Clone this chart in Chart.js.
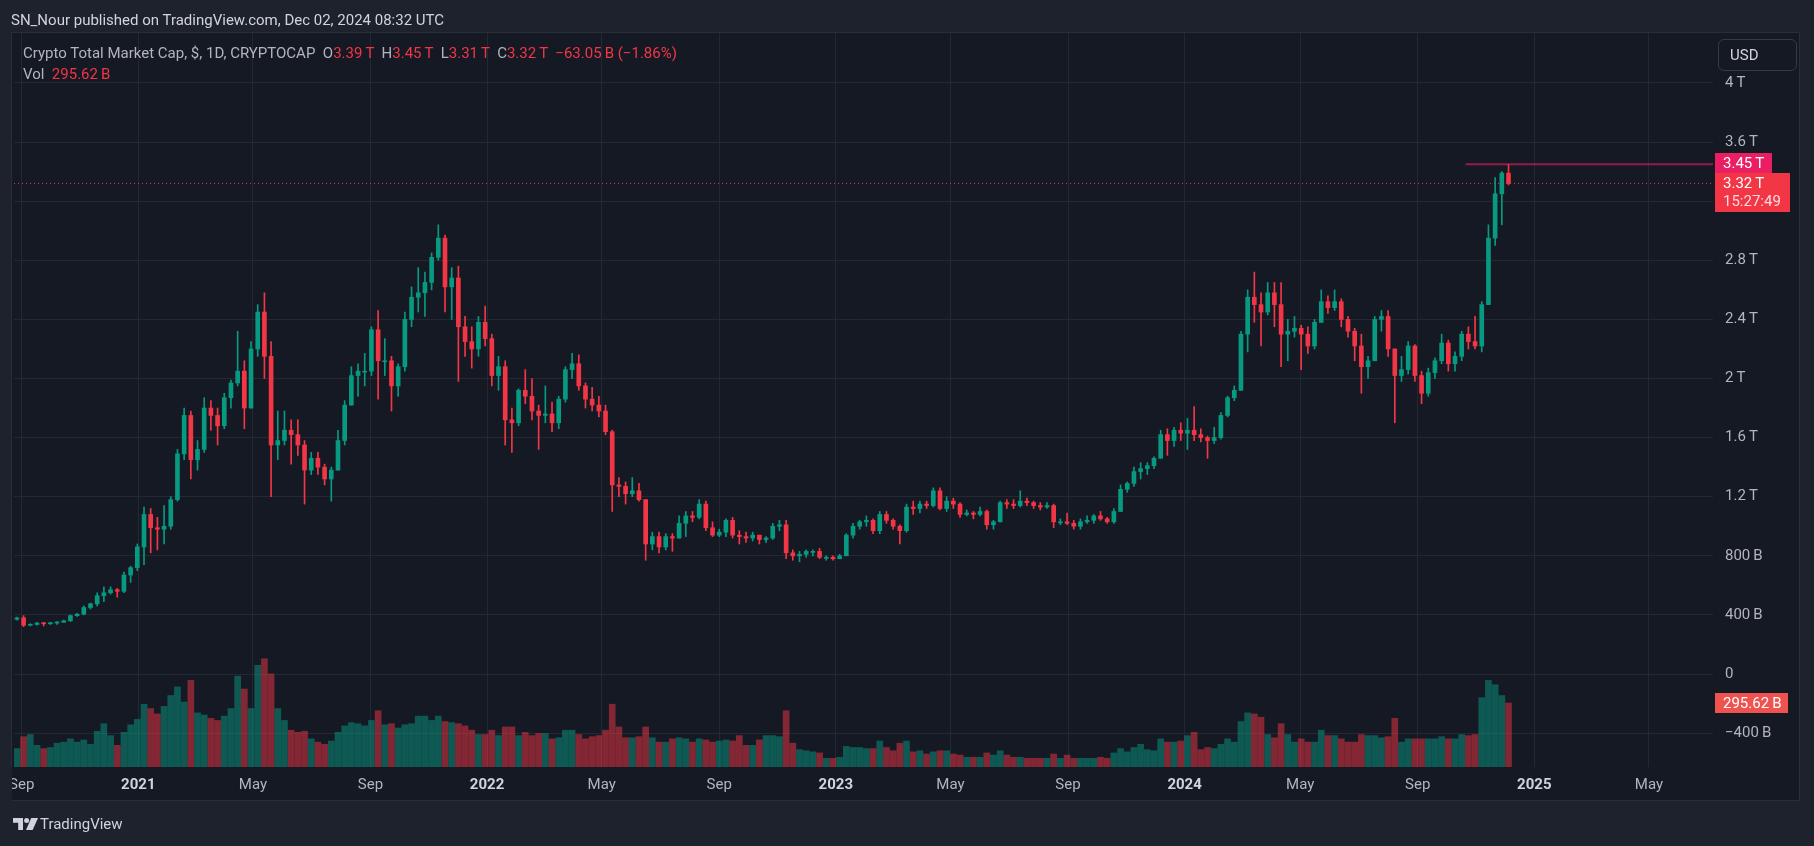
<!DOCTYPE html>
<html>
<head>
<meta charset="utf-8">
<script src="https://cdn.jsdelivr.net/npm/chart.js@4.4.0/dist/chart.umd.min.js"></script>
<style>
  html, body { margin: 0; padding: 0; width: 1814px; height: 846px; overflow: hidden; background: #1e222d; font-family: Roboto, "Liberation Sans", sans-serif; }
  #pane { position: absolute; left: 11px; top: 32px; width: 1789px; height: 769px; background: #151924; border: 1px solid #2a2e39; box-sizing: border-box; }
  #c { position: absolute; left: 0; top: 0; }
  .txt { position: absolute; white-space: pre; font-size: 15px; line-height: 18px; }
  .red { color: #f23645; }
  #usd { position: absolute; left: 1718px; top: 39px; width: 79px; height: 32px; box-sizing: border-box; border: 1px solid #363a45; border-radius: 6px; color: #d1d4dc; font-size: 15px; line-height: 30px; padding-left: 11px; }
  #logo { position: absolute; left: 13px; top: 818px; }
  #edge { position: absolute; left: 0; top: 767px; width: 12px; height: 34px; background: #1e222d; }
</style>
</head>
<body>
<div id="pane"></div>
<canvas id="c" width="1814" height="846"></canvas>
<div id="edge"></div>
<div class="txt" style="left:11px; top:11px; color:#d1d4dc;">SN_Nour published on TradingView.com, Dec 02, 2024 08:32 UTC</div>
<div class="txt" id="legend1" style="left:23px; top:44px; color:#b2b5be;"></div>
<div class="txt" id="legend2" style="left:23px; top:65px; color:#b2b5be;"></div>
<div id="usd">USD</div>
<svg id="logo" width="25" height="12" viewBox="0 0 25 12">
  <path d="M0 0 H10 V12 H5.2 V4.8 H0 Z" fill="#d1d4dc"/>
  <circle cx="13.6" cy="2.6" r="2.5" fill="#d1d4dc"/>
  <path d="M18.2 0 H25 L19.6 12 H13 Z" fill="#d1d4dc"/>
</svg>
<div class="txt" style="left:40px; top:815px; color:#d1d4dc;">TradingView</div>

<script>
// weekly candles, values in trillions of USD
const firstWeek = '2020-08-24';

const openT = [
  .37,.38,.33,.335,.345,.34,.345,.35,.36,.395,
  .405,.45,.475,.53,.55,.57,.56,.67,.72,.86,
  1.08,.99,.98,1.00,1.18,1.49,1.75,1.45,1.52,1.80,
  1.75,1.68,1.87,1.97,2.05,1.80,2.20,2.45,2.15,1.55,
  1.58,1.65,1.62,1.55,1.38,1.46,1.40,1.32,1.38,1.58,
  1.82,2.02,2.05,2.05,2.33,2.12,2.12,1.95,2.08,2.40,
  2.55,2.58,2.65,2.82,2.95,2.62,2.68,2.35,2.25,2.20,
  2.38,2.27,2.02,2.08,1.72,1.70,1.92,1.88,1.78,1.75,
  1.76,1.70,1.86,2.06,2.10,1.95,1.86,1.82,1.78,1.64,
  1.28,1.27,1.22,1.24,1.18,.88,.93,.86,.93,.92,
  1.02,1.07,1.06,1.15,.99,.94,.96,1.04,.94,.93,
  .92,.94,.91,.92,1.00,1.01,.82,.80,.81,.83,
  .83,.79,.79,.78,.80,.94,1.00,1.03,1.04,.97,
  1.08,1.04,1.00,.97,1.13,1.12,1.15,1.14,1.24,1.12,
  1.17,1.15,1.08,1.09,1.08,1.10,1.01,1.03,1.16,1.15,
  1.14,1.17,1.16,1.14,1.13,1.14,1.03,1.03,1.02,1.00,
  1.03,1.04,1.07,1.05,1.03,1.10,1.25,1.29,1.37,1.39,
  1.41,1.46,1.62,1.58,1.65,1.63,1.65,1.62,1.60,1.58,
  1.60,1.75,1.87,1.92,2.30,2.55,2.50,2.45,2.58,2.50,
  2.30,2.32,2.34,2.30,2.22,2.38,2.52,2.48,2.52,2.40,
  2.32,2.22,2.08,2.12,2.40,2.42,2.20,2.02,2.06,2.22,
  2.02,1.90,2.04,2.12,2.24,2.10,2.15,2.30,2.25,2.22,
  2.50,2.95,3.25,3.39
];
const highT = [
  .385,.395,.34,.35,.35,.35,.355,.365,.40,.41,
  .46,.48,.55,.59,.59,.58,.69,.73,.88,1.13,
  1.12,1.06,1.14,1.20,1.52,1.80,1.78,1.58,1.87,1.85,
  1.80,1.90,1.99,2.32,2.12,2.25,2.50,2.58,2.25,1.78,
  1.78,1.72,1.72,1.58,1.50,1.50,1.42,1.40,1.65,1.85,
  2.08,2.10,2.17,2.35,2.46,2.27,2.15,2.10,2.45,2.62,
  2.75,2.72,2.85,3.04,2.97,2.75,2.76,2.42,2.35,2.42,
  2.49,2.30,2.15,2.12,1.80,1.93,2.06,2.00,1.82,1.95,
  1.84,1.88,2.08,2.17,2.16,1.97,1.94,1.88,1.82,1.65,
  1.33,1.30,1.33,1.29,1.18,.96,.96,.95,.95,1.07,
  1.10,1.10,1.18,1.17,1.03,.98,1.05,1.06,.97,.96,
  .96,.94,.93,1.02,1.04,1.04,.84,.83,.84,.84,
  .85,.80,.80,.81,.95,1.02,1.04,1.07,1.05,1.10,
  1.10,1.05,1.01,1.15,1.17,1.17,1.17,1.26,1.26,1.20,
  1.19,1.16,1.11,1.10,1.13,1.11,1.04,1.17,1.18,1.18,
  1.24,1.19,1.17,1.16,1.16,1.15,1.05,1.09,1.04,1.05,
  1.07,1.08,1.10,1.06,1.12,1.28,1.30,1.40,1.43,1.43,
  1.47,1.65,1.66,1.67,1.70,1.73,1.81,1.66,1.61,1.67,
  1.77,1.88,1.95,2.32,2.60,2.72,2.58,2.65,2.65,2.65,
  2.40,2.42,2.36,2.35,2.40,2.60,2.56,2.60,2.54,2.42,
  2.34,2.30,2.15,2.42,2.46,2.46,2.20,2.15,2.25,2.23,
  2.05,2.07,2.14,2.30,2.26,2.18,2.32,2.35,2.42,2.52,
  3.04,3.36,3.40,3.45
];
const lowT = [
  .365,.32,.325,.33,.325,.335,.335,.35,.355,.39,
  .40,.44,.46,.49,.54,.52,.55,.62,.70,.74,
  .82,.84,.88,.98,1.17,1.45,1.32,1.38,1.50,1.65,
  1.55,1.66,1.80,1.95,1.66,1.80,2.15,2.00,1.20,1.45,
  1.55,1.42,1.48,1.15,1.35,1.35,1.28,1.17,1.38,1.55,
  1.82,1.88,1.95,2.02,1.86,2.02,1.78,1.88,2.05,2.35,
  2.45,2.42,2.60,2.80,2.45,2.40,1.98,2.15,2.07,2.15,
  2.22,1.95,1.92,1.55,1.50,1.68,1.83,1.72,1.52,1.70,
  1.64,1.66,1.84,2.00,1.92,1.80,1.78,1.74,1.62,1.10,
  1.20,1.15,1.20,1.17,.77,.84,.82,.84,.83,.92,
  .93,1.03,1.05,.97,.93,.93,.93,.92,.88,.89,
  .90,.88,.89,.91,.97,.78,.77,.76,.79,.80,
  .78,.77,.77,.78,.80,.92,.98,1.00,.95,.95,
  1.02,.98,.88,.96,1.08,1.09,1.12,1.13,1.11,1.10,
  1.12,1.06,1.07,1.05,1.07,.98,.98,1.03,1.12,1.12,
  1.13,1.14,1.12,1.11,1.12,.99,1.01,1.01,.98,.98,
  1.02,1.02,1.04,1.02,1.02,1.10,1.23,1.27,1.32,1.35,
  1.39,1.46,1.48,1.54,1.58,1.52,1.58,1.57,1.46,1.56,
  1.59,1.74,1.85,1.92,2.18,2.38,2.22,2.43,2.35,2.08,
  2.12,2.28,2.06,2.17,2.20,2.38,2.44,2.46,2.35,2.28,
  2.12,1.90,2.00,2.12,2.32,2.15,1.70,1.98,2.03,1.98,
  1.83,1.88,2.00,2.10,2.05,2.05,2.12,2.20,2.20,2.18,
  2.50,2.90,3.04,3.31
];
const closeT = [
  .38,.33,.335,.345,.34,.345,.35,.36,.395,.405,
  .45,.475,.53,.55,.57,.56,.67,.72,.86,1.08,
  .99,.98,1.00,1.18,1.49,1.75,1.45,1.52,1.80,1.75,
  1.68,1.87,1.97,2.05,1.80,2.20,2.45,2.15,1.55,1.58,
  1.65,1.62,1.55,1.38,1.46,1.40,1.32,1.38,1.58,1.82,
  2.02,2.05,2.05,2.33,2.12,2.12,1.95,2.08,2.40,2.55,
  2.58,2.65,2.82,2.95,2.62,2.68,2.35,2.25,2.20,2.38,
  2.27,2.02,2.08,1.72,1.70,1.92,1.88,1.78,1.75,1.76,
  1.70,1.86,2.06,2.10,1.95,1.86,1.82,1.78,1.64,1.28,
  1.27,1.22,1.24,1.18,.88,.93,.86,.93,.92,1.02,
  1.07,1.06,1.15,.99,.94,.96,1.04,.94,.93,.92,
  .94,.91,.92,1.00,1.01,.82,.80,.81,.83,.83,
  .79,.79,.78,.80,.94,1.00,1.03,1.04,.97,1.08,
  1.04,1.00,.97,1.13,1.12,1.15,1.14,1.24,1.12,1.17,
  1.15,1.08,1.09,1.08,1.10,1.01,1.03,1.16,1.15,1.14,
  1.17,1.16,1.14,1.13,1.14,1.03,1.03,1.02,1.00,1.03,
  1.04,1.07,1.05,1.03,1.10,1.25,1.29,1.37,1.39,1.41,
  1.46,1.62,1.58,1.65,1.63,1.65,1.62,1.60,1.58,1.60,
  1.75,1.87,1.92,2.30,2.55,2.50,2.45,2.58,2.50,2.30,
  2.32,2.34,2.30,2.22,2.38,2.52,2.48,2.52,2.40,2.32,
  2.22,2.08,2.12,2.40,2.42,2.20,2.02,2.06,2.22,2.02,
  1.90,2.04,2.12,2.24,2.10,2.15,2.30,2.25,2.22,2.50,
  2.95,3.25,3.39,3.32
];
// typical daily volume of each week, billions
const volumeB = [
  85,140,150,100,85,90,110,115,130,115,
  125,105,165,200,145,100,160,195,220,290,
  270,245,280,330,370,300,400,250,240,225,
  215,235,270,420,360,270,470,500,430,270,
  215,170,160,165,130,115,105,120,160,190,
  205,200,190,215,260,195,200,180,195,200,
  235,235,215,235,210,205,200,190,170,150,
  150,170,145,185,185,145,160,145,155,155,
  130,135,170,170,150,130,140,145,170,290,
  185,135,135,140,185,135,115,115,130,135,
  130,115,130,125,115,120,125,120,145,100,
  100,125,145,145,140,260,110,80,75,70,
  65,40,40,45,95,90,90,85,85,120,
  90,75,110,120,70,75,60,70,75,75,
  60,55,45,45,45,65,55,75,55,45,
  45,40,40,40,40,60,40,55,40,40,
  40,40,45,40,65,85,70,90,105,80,
  75,130,115,115,120,145,160,80,90,85,
  105,130,115,210,250,245,230,150,135,200,
  150,115,130,115,115,170,145,145,130,115,
  115,150,145,145,135,140,225,115,130,130,
  130,130,130,140,130,130,150,145,150,320,
  400,380,330,295.62
];

// time axis: days counted from 2020-09-01
const timeTickDays = [0, 122, 242, 365, 487, 607, 730, 852, 972, 1095, 1217, 1338, 1461, 1583, 1703];
const timeTickLabels = ['Sep', '2021', 'May', 'Sep', '2022', 'May', 'Sep', '2023', 'May', 'Sep', '2024', 'May', 'Sep', '2025', 'May'];
const priceTicks = [-0.4, 0, 0.4, 0.8, 1.2, 1.6, 2, 2.4, 2.8, 3.2, 3.6, 4];
const priceTickLabels = ['\u2212400\u2009B', '0', '400\u2009B', '800\u2009B', '1.2\u2009T', '1.6\u2009T', '2\u2009T', '2.4\u2009T', '2.8\u2009T', '3.2\u2009T', '3.6\u2009T', '4\u2009T'];
const highRayStartDay = 1511;
const countdown = '15:27:49';

const DAY = 86400000;
const origin = Date.UTC(2020, 8, 1);
const weeks = closeT.map((_, i) => new Date(Date.parse(firstWeek) + i * 7 * DAY).toISOString().slice(0, 10));
const xs = weeks.map(w => (Date.parse(w) - origin) / DAY + 3);

const UP = '#089981', DOWN = '#f23645';
const isUp = closeT.map((c, i) => c >= openT[i]);
const candleColors = isUp.map(u => u ? UP : DOWN);
const volColors = isUp.map(u => u ? 'rgba(8,153,129,0.5)' : 'rgba(242,54,69,0.5)');

const last = closeT.length - 1;
const fmtT = v => v.toFixed(2) + '\u2009T';

// legend lines
document.getElementById('legend1').innerHTML =
  'Crypto Total Market Cap, $, 1D, CRYPTOCAP  O<span class="red">' + fmtT(openT[last]) +
  '</span>  H<span class="red">' + fmtT(highT[last]) +
  '</span>  L<span class="red">' + fmtT(lowT[last]) +
  '</span>  C<span class="red">' + fmtT(closeT[last]) +
  '</span>  <span class="red">\u221263.05\u2009B (\u22121.86%)</span>';
document.getElementById('legend2').innerHTML =
  'Vol  <span class="red">' + volumeB[last].toFixed(2) + '\u2009B</span>';

const axisLabels = {
  id: 'axisLabels',
  afterDraw(chart) {
    const { ctx, scales } = chart;
    const y = scales.y, yv = scales.yv;
    const x0 = y.left + 2;
    ctx.save();
    ctx.textBaseline = 'middle';
    ctx.font = '15px Roboto';

    let yc = y.getPixelForValue(highT[last]);
    ctx.fillStyle = '#e91e63';
    ctx.fillRect(x0, Math.round(yc) - 11, 57, 21);
    ctx.fillStyle = '#ffffff';
    ctx.fillText(fmtT(highT[last]), x0 + 8, yc);

    yc = y.getPixelForValue(closeT[last]);
    ctx.fillStyle = '#f23645';
    ctx.fillRect(x0, Math.round(yc) - 10, 75, 39);
    ctx.fillStyle = '#ffffff';
    ctx.fillText(fmtT(closeT[last]), x0 + 8, yc + 1);
    ctx.fillStyle = 'rgba(255,255,255,0.82)';
    ctx.fillText(countdown, x0 + 8, yc + 19);

    yc = yv.getPixelForValue(volumeB[last]);
    ctx.fillStyle = '#ef5350';
    ctx.fillRect(x0, Math.round(yc) - 10, 73, 20);
    ctx.fillStyle = '#ffffff';
    ctx.fillText(volumeB[last].toFixed(2) + '\u2009B', x0 + 8, yc + 1);
    ctx.restore();
  }
};

const gridColor = '#242833';

new Chart(document.getElementById('c'), {
  type: 'bar',
  data: {
    datasets: [
      {
        label: 'Vol',
        data: volumeB.map((v, i) => ({ x: xs[i], y: v })),
        yAxisID: 'yv',
        backgroundColor: volColors,
        barThickness: 6,
        grouped: false,
        order: 5
      },
      {
        label: 'Wicks',
        data: highT.map((h, i) => ({ x: xs[i], y: [lowT[i], h] })),
        yAxisID: 'y',
        backgroundColor: candleColors,
        barThickness: 1,
        grouped: false,
        order: 4
      },
      {
        label: 'Bodies',
        data: openT.map((o, i) => ({ x: xs[i], y: [o, closeT[i]] })),
        yAxisID: 'y',
        backgroundColor: candleColors,
        barThickness: 4,
        minBarLength: 1,
        grouped: false,
        order: 3
      },
      {
        type: 'line',
        label: 'High ray',
        data: [{ x: highRayStartDay, y: highT[last] }, { x: 1770, y: highT[last] }],
        yAxisID: 'y',
        borderColor: 'rgba(233,30,99,0.6)',
        borderWidth: 2,
        pointRadius: 0,
        order: 2
      },
      {
        type: 'line',
        label: 'Last price',
        data: [{ x: -8, y: closeT[last] }, { x: 1770, y: closeT[last] }],
        yAxisID: 'y',
        borderColor: '#f23645',
        borderWidth: 1,
        borderDash: [1, 3],
        pointRadius: 0,
        order: 1
      }
    ]
  },
  options: {
    responsive: false,
    devicePixelRatio: 1,
    animation: false,
    layout: { padding: { left: 13, top: 33, right: 14, bottom: 45 } },
    plugins: {
      legend: { display: false },
      tooltip: { enabled: false }
    },
    scales: {
      x: {
        type: 'linear',
        min: -8,
        max: 1770,
        offset: false,
        grid: { color: gridColor, offset: false, drawTicks: false },
        border: { display: false },
        afterBuildTicks: axis => { axis.ticks = timeTickDays.map(v => ({ value: v })); },
        afterFit: axis => { axis.height = 34; },
        ticks: {
          autoSkip: false,
          maxRotation: 0,
          padding: 9,
          callback: v => timeTickLabels[timeTickDays.indexOf(v)],
          color: ctx => /^\d{4}$/.test(timeTickLabels[ctx.index]) ? '#d1d4dc' : '#b2b5be',
          font: ctx => ({ family: 'Roboto', size: 15, weight: /^\d{4}$/.test(timeTickLabels[ctx.index]) ? 'bold' : 'normal' })
        }
      },
      y: {
        position: 'right',
        min: -0.6294,
        max: 4.3384,
        grid: { color: gridColor, drawTicks: false },
        border: { display: false },
        afterBuildTicks: axis => { axis.ticks = priceTicks.map(v => ({ value: v })); },
        afterFit: axis => { axis.width = 87; },
        ticks: {
          padding: 12,
          color: '#b2b5be',
          font: { family: 'Roboto', size: 15 },
          callback: v => priceTickLabels[priceTicks.indexOf(v)]
        }
      },
      yv: {
        display: false,
        min: 0,
        max: 3390
      }
    }
  },
  plugins: [axisLabels]
});
</script>
</body>
</html>
